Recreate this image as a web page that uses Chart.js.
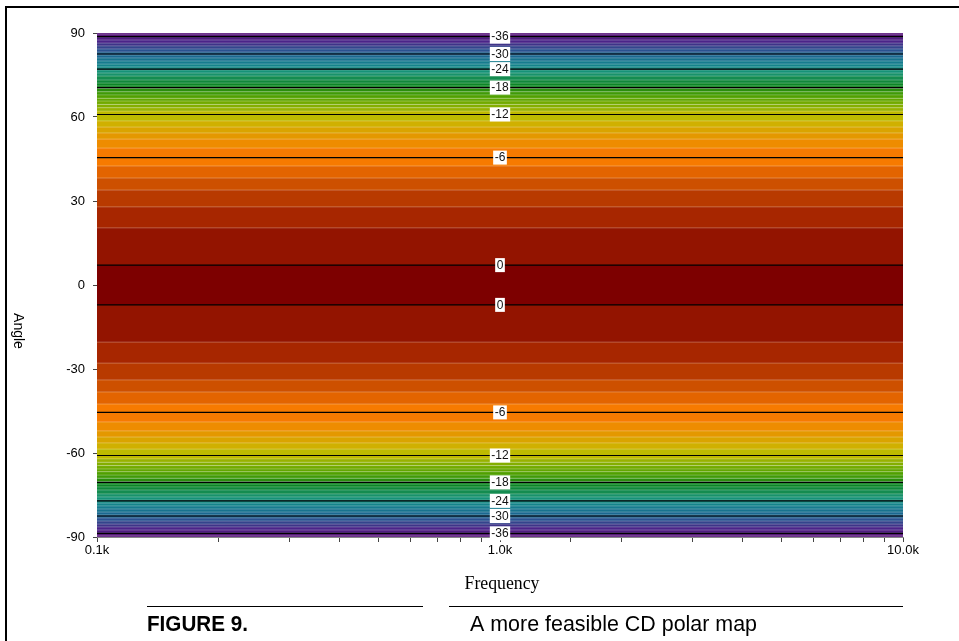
<!DOCTYPE html>
<html>
<head>
<meta charset="utf-8">
<script src="https://cdn.jsdelivr.net/npm/chart.js@4.4.0/dist/chart.umd.min.js"></script>
<style>
  html, body { margin: 0; padding: 0; background: #fff; }
  #wrap { position: relative; width: 959px; height: 641px; }
</style>
</head>
<body>
<div id="wrap"><canvas id="map" width="959" height="641"></canvas></div>
<script>
// angle (deg) where each colour band ends, centre band first, going outwards.
// the map is mirrored for negative angles
const bandEdges = [7.1, 20.4, 27.9, 33.9, 38.2, 42.5, 48.9, 52.1, 54.3, 56.4, 58.6,
  62.1, 63.3, 64.5, 65.7, 66.7, 67.9, 69.0, 70.2, 71.1, 72.1, 73.2, 74.6, 75.7,
  76.8, 77.9, 78.9, 80.0, 81.1, 82.1, 83.2, 84.3, 85.4, 86.4, 87.5, 88.6, 89.6, 90];

// labelled contour lines (dB) and the angle they sit at
const contourLevels = [0, -6, -12, -18, -24, -30, -36];
const contourAngles = [7.1, 45.5, 60.9, 70.5, 77.1, 82.5, 88.7];

const freqRange = [100, 10000];
const freqTicks = [100, 1000, 10000];
const freqTickLabels = ['0.1k', '1.0k', '10.0k'];
const angleTicks = [90, 60, 30, 0, -30, -60, -90];
const labelFreq = 1000;

const bandColors = ['#7D0000', '#931400', '#A72600', '#B83A00', '#CD5000', '#E36400',
  '#F77A00', '#EE8C00', '#E49800', '#DAA400', '#D0B000', '#BEBA00', '#98B200', '#84AE00',
  '#72AA00', '#62A600', '#50A000', '#409A08', '#2A8E0C', '#088014', '#0C8626', '#10883A',
  '#148C50', '#18926A', '#169278', '#148C84', '#14848A', '#167C8E', '#18728E', '#1A6890',
  '#1E5E8C', '#2A5290', '#34448C', '#3E3488', '#4A2488', '#4E1C80', '#561878', '#5E1A80'];

const hline = (y) => [{x: freqRange[0], y}, {x: freqRange[1], y}];

const datasets = [];
contourAngles.forEach(a => {
  [a, -a].forEach(y => datasets.push({
    data: hline(y), borderColor: '#000', borderWidth: 1.2,
    pointRadius: 0, fill: false, order: 0
  }));
});
bandEdges.forEach((edge, i) => {
  const last = i === bandEdges.length - 1;
  if (i === 0) {
    datasets.push({
      data: hline(edge), fill: {value: -edge}, backgroundColor: bandColors[0],
      borderWidth: 0, pointRadius: 0, order: 1
    });
    return;
  }
  const inner = bandEdges[i - 1];
  [1, -1].forEach(s => datasets.push({
    data: hline(s * edge), fill: {value: s * inner}, backgroundColor: bandColors[i],
    borderColor: 'rgba(255,255,255,0.28)', borderWidth: last ? 0 : 1,
    pointRadius: 0, order: 1
  }));
});

function fitText(ctx, text, x, y, font, width, align) {
  ctx.save();
  ctx.font = font;
  const w = ctx.measureText(text).width;
  const k = width / w;
  ctx.translate(x, y);
  ctx.scale(k, 1);
  ctx.textAlign = 'left';
  ctx.textBaseline = 'alphabetic';
  ctx.fillText(text, align === 'center' ? -w / 2 : 0, 0);
  ctx.restore();
}

const decorations = {
  id: 'decorations',
  afterDatasetsDraw(chart) {
    const {ctx, scales: {x, y}} = chart;
    ctx.save();
    ctx.font = '12px "Liberation Sans", Arial, sans-serif';
    ctx.textAlign = 'center';
    ctx.textBaseline = 'middle';
    const px = x.getPixelForValue(labelFreq);
    contourLevels.forEach((lev, i) => {
      [contourAngles[i], -contourAngles[i]].forEach(a => {
        const py = y.getPixelForValue(a);
        const t = String(lev);
        const w = ctx.measureText(t).width + 3;
        ctx.fillStyle = '#fff';
        ctx.fillRect(px - w / 2, py - 7, w, 14);
        ctx.fillStyle = '#111';
        ctx.fillText(t, px, py + 0.5);
      });
    });
    ctx.restore();
  },
  afterDraw(chart) {
    const ctx = chart.ctx;
    ctx.save();
    // frame
    ctx.strokeStyle = '#000';
    ctx.lineWidth = 2;
    ctx.beginPath();
    ctx.moveTo(6, 641);
    ctx.lineTo(6, 7);
    ctx.lineTo(959, 7);
    ctx.stroke();
    // y title, rotated clockwise
    ctx.fillStyle = '#000';
    ctx.save();
    ctx.translate(18, 331);
    ctx.rotate(Math.PI / 2);
    ctx.font = '14px "Liberation Sans", Arial, sans-serif';
    ctx.textAlign = 'center';
    ctx.textBaseline = 'middle';
    ctx.fillText('Angle', 0, 0);
    ctx.restore();
    // x title
    fitText(ctx, 'Frequency', 502, 589, '19px "Liberation Serif", serif', 75, 'center');
    // caption rules and text
    ctx.lineWidth = 1;
    ctx.beginPath();
    ctx.moveTo(147, 606.5); ctx.lineTo(423, 606.5);
    ctx.moveTo(449, 606.5); ctx.lineTo(903, 606.5);
    ctx.stroke();
    fitText(ctx, 'FIGURE 9.', 147, 631, 'bold 22px "Liberation Sans", Arial, sans-serif', 101);
    fitText(ctx, 'A more feasible CD polar map', 470, 631, '22px "Liberation Sans", Arial, sans-serif', 287);
    ctx.restore();
  }
};

Chart.defaults.font.family = '"Liberation Sans", Arial, sans-serif';
Chart.defaults.font.size = 13;
Chart.defaults.color = '#000';

new Chart(document.getElementById('map'), {
  type: 'line',
  data: {datasets},
  options: {
    responsive: false,
    animation: false,
    events: [],
    layout: {padding: {left: 0, top: 33, right: 56, bottom: 0}},
    elements: {line: {tension: 0}},
    plugins: {legend: {display: false}, tooltip: {enabled: false}},
    scales: {
      x: {
        type: 'logarithmic',
        min: freqRange[0],
        max: freqRange[1],
        afterFit(s) { s.height = 104; },
        border: {color: '#888', width: 1},
        grid: {drawOnChartArea: false, tickLength: 5, color: '#444'},
        ticks: {
          autoSkip: false,
          maxRotation: 0,
          padding: 1,
          callback(v) {
            const k = freqTicks.indexOf(Number(v));
            return k >= 0 ? freqTickLabels[k] : '';
          }
        }
      },
      y: {
        type: 'linear',
        min: -90,
        max: 90,
        afterFit(s) { s.width = 97; },
        afterBuildTicks(s) { s.ticks = angleTicks.map(v => ({value: v})); },
        border: {color: '#888', width: 1},
        grid: {drawOnChartArea: false, tickLength: 4, color: '#444'},
        ticks: {padding: 8}
      }
    }
  },
  plugins: [decorations]
});
</script>
</body>
</html>
